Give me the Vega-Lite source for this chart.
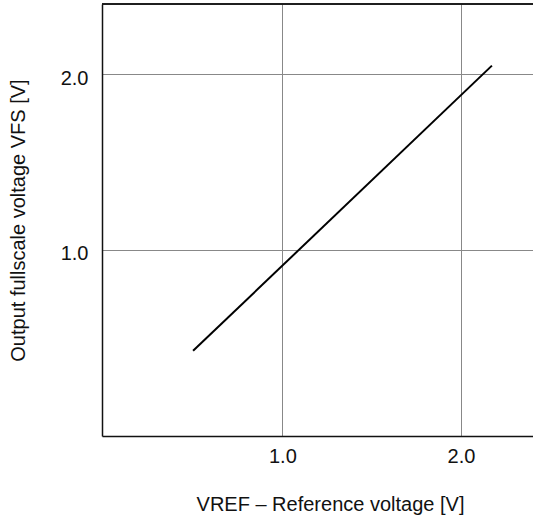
{
  "$schema": "https://vega.github.io/schema/vega-lite/v6.json",
  "autosize": "none",
  "padding": {"left": 102, "top": 4, "right": 0, "bottom": 84},
  "width": 431,
  "height": 432,
  "background": "white",
  "config": {
    "view": {"stroke": null},
    "font": "Liberation Sans",
    "axis": {
      "labelFont": "Liberation Sans",
      "titleFont": "Liberation Sans",
      "labelFontSize": 20,
      "titleFontSize": 20,
      "labelColor": "#111",
      "titleColor": "#111",
      "titleFontWeight": "normal",
      "ticks": false,
      "grid": true,
      "domainColor": "#111",
      "domainWidth": 1.5,
      "gridColor": "#888",
      "gridWidth": 1,
      "gridOpacity": 1
    }
  },
  "data": {
    "values": [
      {"vref": 0.5, "vfs": 0.425},
      {"vref": 2.173, "vfs": 2.049}
    ]
  },
  "layer": [
    {
      "mark": {"type": "line", "color": "#000", "strokeWidth": 2},
      "encoding": {
        "x": {
          "field": "vref",
          "type": "quantitative",
          "scale": {"domain": [-0.01, 2.403], "nice": false, "zero": false},
          "axis": {
            "values": [1, 2],
            "format": ".1f",
            "grid": true,
            "labelPadding": 10,
            "title": "VREF – Reference voltage [V]",
            "titleX": 228,
            "titleY": 74,
            "titleAlign": "center",
            "titleBaseline": "alphabetic"
          }
        },
        "y": {
          "field": "vfs",
          "type": "quantitative",
          "scale": {"domain": [-0.06, 2.4], "nice": false, "zero": false},
          "axis": {
            "values": [1, 2],
            "format": ".1f",
            "grid": true,
            "labelPadding": 14,
            "labelOffset": 4,
            "title": "Output fullscale voltage VFS [V]",
            "titleAngle": -90,
            "titleX": -78,
            "titleY": 216,
            "titleAlign": "center",
            "titleBaseline": "alphabetic"
          }
        }
      }
    },
    {
      "mark": {"type": "rule", "color": "#111", "strokeWidth": 1.5},
      "encoding": {"y": {"datum": 2.4}}
    }
  ]
}
